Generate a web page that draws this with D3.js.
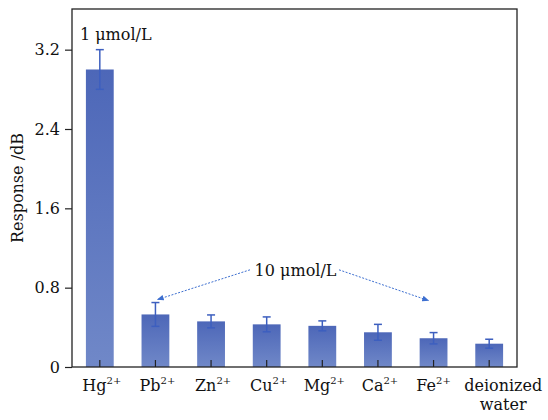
<!DOCTYPE html>
<html>
<head>
<meta charset="utf-8">
<script src="https://cdn.jsdelivr.net/npm/d3@7"></script>
<style>
  body { margin: 0; background: #fff; }
  svg text { font-family: "DejaVu Serif", "Liberation Serif", serif; fill: #111; }
</style>
</head>
<body>
<div id="chart"></div>
<script>
// data
var ions = ["Hg", "Pb", "Zn", "Cu", "Mg", "Ca", "Fe", "deionized water"];
var charges = ["2+", "2+", "2+", "2+", "2+", "2+", "2+", ""];
var responses = [3.0, 0.53, 0.46, 0.43, 0.415, 0.35, 0.29, 0.235];
var errors = [0.2, 0.12, 0.065, 0.075, 0.05, 0.08, 0.057, 0.045];
var yTicks = [0, 0.8, 1.6, 2.4, 3.2];

var width = 548;
var height = 420;
var marginLeft = 72;
var marginTop = 9;
var marginRight = 31;
var marginBottom = 53;
var chartWidth = width - marginLeft - marginRight;
var chartHeight = height - marginTop - marginBottom;

var svg = d3.select("#chart").append("svg")
    .attr("width", width)
    .attr("height", height);

var defs = svg.append("defs");
var grad = defs.append("linearGradient")
    .attr("id", "barGrad")
    .attr("x1", 0).attr("y1", 0).attr("x2", 0).attr("y2", 1);
grad.append("stop").attr("offset", "0%").attr("stop-color", "#4d67b8");
grad.append("stop").attr("offset", "100%").attr("stop-color", "#7088c8");

var chart = svg.append("g")
    .attr("transform", "translate(" + marginLeft + "," + marginTop + ")");

var xScale = d3.scaleBand()
    .domain(ions)
    .range([0, chartWidth])
    .paddingInner(0.5)
    .paddingOuter(0.25);

var yScale = d3.scaleLinear()
    .domain([0, 3.61])
    .range([chartHeight, 0]);

var barWidth = xScale.bandwidth();

// bars
chart.selectAll("rect.bar")
    .data(ions)
    .enter()
    .append("rect")
        .attr("class", "bar")
        .attr("x", function(d) { return xScale(d); })
        .attr("y", function(d, i) { return yScale(responses[i]); })
        .attr("width", barWidth)
        .attr("height", function(d, i) { return chartHeight - yScale(responses[i]); })
        .attr("fill", "url(#barGrad)");

// error bars
var errG = chart.append("g")
    .attr("stroke", "#3d5fbf")
    .attr("stroke-width", 1.5);

ions.forEach(function(d, i) {
    var cx = xScale(d) + barWidth / 2;
    var top = yScale(responses[i] + errors[i]);
    var bot = yScale(responses[i] - errors[i]);
    errG.append("line").attr("x1", cx).attr("x2", cx).attr("y1", top).attr("y2", bot);
    errG.append("line").attr("x1", cx - 4).attr("x2", cx + 4).attr("y1", top).attr("y2", top);
    errG.append("line").attr("x1", cx - 4).attr("x2", cx + 4).attr("y1", bot).attr("y2", bot);
});

// y axis
var yAxis = d3.axisLeft(yScale)
    .tickValues(yTicks)
    .tickSize(7)
    .tickPadding(5)
    .tickFormat(function(d) { return d === 0 ? "0" : d3.format(".1f")(d); });

var yAxisG = chart.append("g").call(yAxis);
yAxisG.select(".domain").remove();
yAxisG.selectAll("line").attr("stroke", "#222").attr("stroke-width", 1.2);
yAxisG.selectAll("text")
    .style("font-size", "16px")
    .style("font-family", "DejaVu Serif, serif");

// x axis ticks (inward)
var xAxis = d3.axisBottom(xScale).tickSize(-7).tickFormat("");
var xAxisG = chart.append("g")
    .attr("transform", "translate(0," + chartHeight + ")")
    .call(xAxis);
xAxisG.select(".domain").remove();
xAxisG.selectAll("line").attr("stroke", "#222").attr("stroke-width", 1.2);

// x labels
ions.forEach(function(d, i) {
    var cx = xScale(d) + barWidth / 2;
    if (d === "deionized water") {
        chart.append("text")
            .attr("x", cx + 14).attr("y", chartHeight + 24)
            .attr("text-anchor", "middle")
            .style("font-size", "16px")
            .text("deionized");
        chart.append("text")
            .attr("x", cx + 14).attr("y", chartHeight + 43)
            .attr("text-anchor", "middle")
            .style("font-size", "16px")
            .text("water");
    } else {
        var shift = d === "Fe" ? 0 : 2;
        var t2 = chart.append("text")
            .attr("x", cx + shift)
            .attr("y", chartHeight + 24)
            .attr("text-anchor", "middle")
            .style("font-size", "16px");
        t2.append("tspan").text(d);
        t2.append("tspan")
            .attr("dy", -7)
            .style("font-size", "10px")
            .text(charges[i]);
    }
});

// frame
chart.append("rect")
    .attr("x", 0).attr("y", 0)
    .attr("width", chartWidth).attr("height", chartHeight)
    .attr("fill", "none")
    .attr("stroke", "#222")
    .attr("stroke-width", 1.3);

// y title
svg.append("text")
    .attr("transform", "translate(23," + (marginTop + chartHeight / 2) + ") rotate(-90)")
    .attr("text-anchor", "middle")
    .style("font-size", "16px")
    .text("Response /dB");

// annotations
chart.append("text")
    .attr("x", xScale("Hg") - 6)
    .attr("y", 31)
    .style("font-size", "16px")
    .text("1 \u03bcmol/L");

var labelY = yScale(0.98);
chart.append("text")
    .attr("x", (xScale("Cu") + xScale("Mg")) / 2 + barWidth / 2 + 1)
    .attr("y", labelY + 6)
    .attr("text-anchor", "middle")
    .style("font-size", "16px")
    .text("10 \u03bcmol/L");

defs.append("marker")
    .attr("id", "arrow")
    .attr("viewBox", "0 0 10 10")
    .attr("refX", 9).attr("refY", 5)
    .attr("markerWidth", 7).attr("markerHeight", 7)
    .attr("orient", "auto")
    .append("path")
        .attr("d", "M0,1 L10,5 L0,9 Z")
        .attr("fill", "#3d6fd0");

var pbX = xScale("Pb") + barWidth / 2 + 2;
var feX = xScale("Fe") + barWidth / 2 - 5;
chart.append("line")
    .attr("x1", 178).attr("y1", labelY)
    .attr("x2", pbX).attr("y2", yScale(0.68))
    .attr("stroke", "#3d6fd0").attr("stroke-width", 1)
    .attr("stroke-dasharray", "2,1.5")
    .attr("marker-end", "url(#arrow)");
chart.append("line")
    .attr("x1", 267).attr("y1", labelY)
    .attr("x2", feX).attr("y2", yScale(0.67))
    .attr("stroke", "#3d6fd0").attr("stroke-width", 1)
    .attr("stroke-dasharray", "2,1.5")
    .attr("marker-end", "url(#arrow)");
</script>
</body>
</html>
